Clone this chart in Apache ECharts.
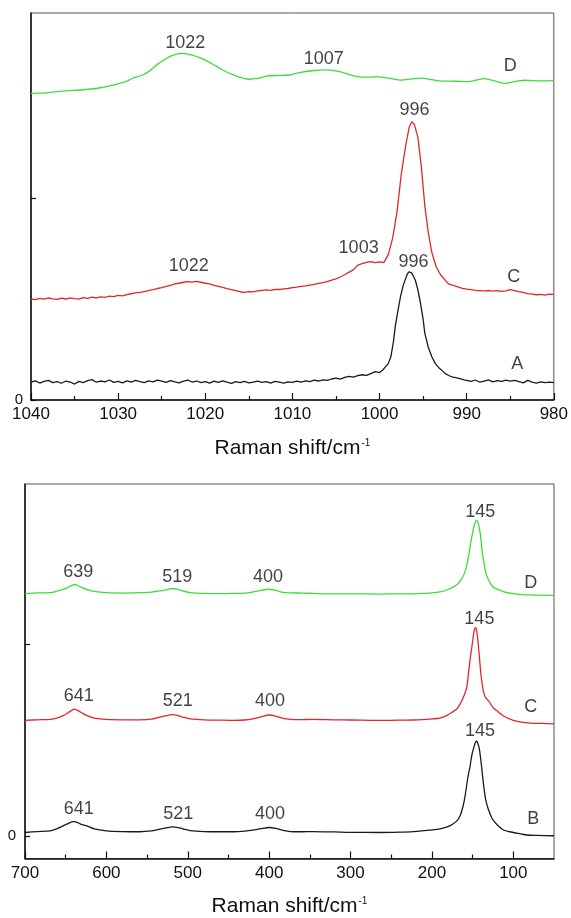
<!DOCTYPE html>
<html><head><meta charset="utf-8">
<script src="https://cdn.jsdelivr.net/npm/echarts@6/dist/echarts.min.js"></script>
<style>html,body{margin:0;padding:0;background:#fff}#c{width:571px;height:918px}</style>
</head><body><div id="c"></div>
<script>
// ---------- top panel (980-1040 cm-1) ----------
const topTicks = [1040, 1030, 1020, 1010, 1000, 990, 980];
const topD = [[1040,1.518],[1038,1.522],[1036,1.530],[1034,1.536],[1032,1.546],[1030.6,1.559],[1029.2,1.575],[1028.3,1.593],[1027.2,1.609],[1026.3,1.632],[1025.6,1.658],[1024.8,1.682],[1024.1,1.700],[1023.4,1.711],[1022.7,1.716],[1021.5,1.708],[1020.7,1.696],[1019.9,1.680],[1018.8,1.654],[1017.6,1.625],[1016.1,1.598],[1015.0,1.588],[1014.0,1.592],[1013.0,1.604],[1011.6,1.607],[1010.4,1.609],[1009.3,1.620],[1007.8,1.630],[1006.2,1.634],[1005.0,1.630],[1003.9,1.617],[1002.4,1.600],[1001.2,1.599],[1000.1,1.600],[998.8,1.592],[997.5,1.584],[996.3,1.590],[995.2,1.594],[994.0,1.586],[992.9,1.579],[991.3,1.578],[989.8,1.576],[988.9,1.584],[988.1,1.591],[987.0,1.582],[985.6,1.568],[984.5,1.576],[983.3,1.583],[981.6,1.580],[980,1.581]];
const topC = [[1040,0.500],[1039.5,0.497],[1039,0.503],[1038.5,0.499],[1038,0.505],[1037.5,0.501],[1037,0.498],[1036.5,0.504],[1036,0.500],[1035.5,0.506],[1035,0.502],[1034.5,0.499],[1034,0.507],[1033.5,0.503],[1033,0.509],[1032.5,0.505],[1032,0.511],[1031.5,0.508],[1031,0.514],[1030.5,0.512],[1030,0.518],[1029.5,0.516],[1029,0.522],[1028.5,0.526],[1028,0.530],[1027.5,0.533],[1027,0.537],[1026.5,0.541],[1026,0.546],[1025.5,0.552],[1025,0.556],[1024.5,0.562],[1024,0.568],[1023.5,0.575],[1023,0.578],[1022.5,0.583],[1022,0.586],[1021.5,0.584],[1021,0.587],[1020.5,0.583],[1020,0.578],[1019.5,0.575],[1019,0.568],[1018.5,0.563],[1018,0.557],[1017.5,0.551],[1017,0.547],[1016.5,0.542],[1016,0.536],[1015.5,0.533],[1015,0.537],[1014.5,0.535],[1014,0.540],[1013.5,0.543],[1013,0.545],[1012.5,0.543],[1012,0.548],[1011.5,0.547],[1011,0.550],[1010.5,0.552],[1010,0.556],[1009.5,0.559],[1009,0.563],[1008.5,0.565],[1008,0.569],[1007.5,0.572],[1007,0.577],[1006.5,0.581],[1006,0.586],[1005.5,0.594],[1005,0.600],[1004.5,0.609],[1004,0.620],[1003.5,0.633],[1003,0.644],[1002.5,0.668],[1002,0.675],[1001.5,0.681],[1001,0.685],[1000.5,0.680],[1000,0.684],[999.5,0.680],[999.0,0.720],[998.5,0.800],[998.0,0.930],[997.5,1.120],[997.0,1.260],[996.6,1.350],[996.3,1.378],[996.0,1.365],[995.6,1.300],[995.2,1.153],[994.8,0.960],[994.4,0.827],[994.0,0.730],[993.5,0.660],[993.0,0.620],[992.1,0.575],[991.0,0.560],[990.5,0.553],[990,0.549],[989.5,0.546],[989,0.543],[988.5,0.542],[988,0.540],[987.5,0.542],[987,0.539],[986.5,0.541],[986,0.538],[985.5,0.540],[985,0.546],[984.5,0.541],[984,0.536],[983.5,0.533],[983,0.527],[982.5,0.524],[982,0.521],[981.5,0.523],[981,0.519],[980.5,0.524],[980,0.523]];
const topA = [[1040,0.088],[1039.5,0.095],[1039,0.084],[1038.5,0.092],[1038,0.097],[1037.5,0.086],[1037,0.091],[1036.5,0.083],[1036,0.094],[1035.5,0.089],[1035,0.079],[1034.5,0.092],[1034,0.086],[1033.5,0.096],[1033,0.101],[1032.5,0.088],[1032,0.094],[1031.5,0.090],[1031,0.099],[1030.5,0.087],[1030,0.092],[1029.5,0.085],[1029,0.095],[1028.5,0.089],[1028,0.097],[1027.5,0.091],[1027,0.086],[1026.5,0.095],[1026,0.090],[1025.5,0.098],[1025,0.093],[1024.5,0.087],[1024,0.096],[1023.5,0.090],[1023,0.085],[1022.5,0.093],[1022,0.098],[1021.5,0.089],[1021,0.094],[1020.5,0.086],[1020,0.091],[1019.5,0.084],[1019,0.093],[1018.5,0.087],[1018,0.095],[1017.5,0.088],[1017,0.082],[1016.5,0.091],[1016,0.086],[1015.5,0.092],[1015,0.085],[1014.5,0.089],[1014,0.094],[1013.5,0.087],[1013,0.091],[1012.5,0.084],[1012,0.092],[1011.5,0.088],[1011,0.083],[1010.5,0.090],[1010,0.087],[1009.5,0.093],[1009,0.089],[1008.5,0.095],[1008,0.091],[1007.5,0.098],[1007,0.094],[1006.5,0.100],[1006,0.097],[1005.5,0.104],[1005,0.108],[1004.5,0.103],[1004,0.112],[1003.5,0.117],[1003,0.113],[1002.5,0.121],[1002,0.125],[1001.5,0.122],[1001,0.131],[1000.5,0.140],[1000,0.136],[999.6,0.150],[999.3,0.165],[999.0,0.180],[998.7,0.214],[998.4,0.290],[998.2,0.363],[997.9,0.440],[997.6,0.511],[997.3,0.565],[997.0,0.602],[996.8,0.625],[996.6,0.635],[996.3,0.628],[995.9,0.594],[995.6,0.545],[995.3,0.479],[995.0,0.400],[994.8,0.330],[994.4,0.260],[994.0,0.214],[993.6,0.180],[993.2,0.160],[992.9,0.149],[992.5,0.132],[992.0,0.120],[991.7,0.115],[991.0,0.108],[990.3,0.100],[990,0.097],[989.5,0.092],[989,0.099],[988.5,0.088],[988,0.094],[987.5,0.100],[987,0.090],[986.5,0.096],[986,0.092],[985.5,0.098],[985,0.093],[984.5,0.097],[984,0.091],[983.5,0.085],[983,0.097],[982.5,0.089],[982,0.084],[981.5,0.090],[981,0.086],[980.5,0.088],[980,0.086]];
const topNotes = [[1022.3,1.769,'1022'],[1006.4,1.688,'1007'],[985.0,1.655,'D'],[996.0,1.436,'996'],[1021.9,0.663,'1022'],[1002.4,0.754,'1003'],[996.1,0.685,'996'],[984.6,0.607,'C'],[984.2,0.178,'A']];

// ---------- bottom panel (50-700 cm-1) ----------
const botTicks = [700, 600, 500, 400, 300, 200, 100];
const botMinor = [650, 550, 450, 350, 250, 150];
const botD = [[700,1.263],[690,1.266],[680,1.267],[669,1.268],[660,1.277],[653,1.285],[646,1.298],[641,1.309],[638.6,1.311],[634,1.303],[630,1.294],[624,1.285],[615,1.275],[600,1.268],[580,1.266],[559,1.268],[545,1.271],[534,1.277],[525,1.284],[519,1.290],[513,1.286],[505,1.276],[497,1.268],[480,1.264],[460,1.263],[444,1.264],[430,1.266],[420,1.272],[410,1.280],[401,1.286],[392,1.280],[383,1.270],[375,1.267],[360,1.266],[346,1.264],[320,1.262],[300,1.262],[264,1.261],[240,1.262],[223,1.262],[210,1.264],[199,1.268],[190,1.272],[182,1.282],[174,1.297],[168,1.315],[163.4,1.340],[160,1.370],[157.3,1.409],[154.5,1.470],[152.3,1.529],[150,1.580],[148.3,1.615],[146.5,1.638],[145,1.646],[143.5,1.635],[141.8,1.607],[140,1.555],[138.1,1.478],[135.5,1.410],[132.7,1.357],[128.5,1.320],[124.6,1.297],[116,1.280],[108,1.268],[100,1.263],[90,1.258],[75,1.255],[50,1.254]];
const botC = [[700,0.602],[685,0.605],[669,0.607],[660,0.615],[653,0.627],[646,0.645],[641,0.658],[639.8,0.661],[636,0.655],[631,0.643],[624,0.627],[615,0.614],[600,0.607],[580,0.605],[559,0.605],[545,0.608],[534,0.619],[525,0.627],[519,0.632],[512,0.627],[505,0.617],[497,0.610],[480,0.605],[460,0.603],[444,0.602],[430,0.604],[420,0.610],[410,0.620],[400,0.630],[392,0.624],[383,0.612],[374,0.607],[360,0.606],[346,0.607],[320,0.605],[300,0.604],[264,0.602],[240,0.603],[223,0.604],[199,0.610],[190,0.614],[182,0.627],[175,0.645],[169.5,0.661],[165,0.690],[161.4,0.722],[157.3,0.773],[155,0.850],[152.5,0.940],[151.1,0.979],[149,1.045],[147.5,1.080],[146.2,1.086],[145,1.070],[143,0.996],[141,0.900],[139.5,0.830],[137.5,0.773],[136,0.740],[133.5,0.718],[130.7,0.705],[125,0.670],[120.4,0.653],[112,0.625],[100,0.602],[90,0.593],[79.5,0.588],[65,0.586],[50,0.584]];
const botB = [[700,0.017],[685,0.022],[669,0.026],[660,0.038],[653,0.052],[646,0.066],[641,0.074],[639.8,0.074],[636,0.070],[631,0.060],[624,0.052],[615,0.036],[600,0.026],[580,0.022],[559,0.021],[545,0.025],[534,0.035],[525,0.042],[519,0.046],[512,0.043],[505,0.035],[497,0.027],[480,0.022],[460,0.021],[444,0.021],[430,0.024],[420,0.029],[410,0.037],[400,0.043],[392,0.038],[383,0.028],[374,0.022],[360,0.021],[346,0.022],[320,0.020],[300,0.018],[264,0.017],[240,0.019],[223,0.022],[199,0.031],[190,0.036],[178,0.052],[170,0.075],[165.5,0.103],[162,0.150],[159.3,0.206],[156,0.300],[153.2,0.361],[151,0.420],[148.3,0.464],[146.5,0.488],[145,0.493],[143.5,0.480],[141.8,0.455],[139.5,0.380],[136.8,0.275],[134,0.190],[130.7,0.138],[126,0.090],[120.4,0.060],[112,0.030],[100,0.017],[91,0.010],[83.5,0.004],[70,0.002],[50,0]];
const botNotes = [[634.5,1.378,'639'],[512.9,1.349,'519'],[401.4,1.349,'400'],[140.5,1.689,'145'],[78.6,1.318,'D'],[634.0,0.727,'641'],[512.4,0.701,'521'],[398.9,0.701,'400'],[141.7,1.129,'145'],[78.6,0.670,'C'],[634.0,0.138,'641'],[511.6,0.112,'521'],[398.9,0.113,'400'],[140.9,0.545,'145'],[75.4,0.086,'B']];

const FONT = 'Liberation Sans, Arial, Helvetica, sans-serif';
const INK = '#111111';
const GREEN = '#3ddc3d', RED = '#e3262c', BLACK = '#1a1a1a';

function xAxisBase(grid, min, max) {
  return {
    type: 'value', gridIndex: grid, min: min, max: max, inverse: true,
    axisLine: { show: true, onZero: false, lineStyle: { color: INK, width: 1.5 } },
    splitLine: { show: false },
    axisLabel: { color: INK, fontSize: 17, fontFamily: FONT, margin: 6, formatter: v => String(v) },
    axisTick: { show: true, inside: true, length: 7, lineStyle: { color: INK, width: 1.2 } },
    nameLocation: 'middle', nameGap: 36,
    name: '{a|Raman shift/cm}{b|-1}',
    nameTextStyle: { rich: {
      a: { fontSize: 21, fontFamily: FONT, color: INK, lineHeight: 24 },
      b: { fontSize: 10, fontFamily: FONT, color: INK, verticalAlign: 'top', lineHeight: 10, padding: [2, 0, 0, 1] }
    } }
  };
}
function yAxisBase(grid, min, max, margin) {
  return {
    type: 'value', gridIndex: grid, min: min, max: max,
    axisLine: { show: true, onZero: false, lineStyle: { color: INK, width: 1.5 } },
    splitLine: { show: false },
    axisTick: { show: true, inside: true, length: 5, customValues: [0, 1], lineStyle: { color: INK, width: 1.2 } },
    axisLabel: { show: true, customValues: [0], color: INK, fontSize: 15, fontFamily: FONT, margin: margin }
  };
}

const topX = xAxisBase(0, 980, 1040);
topX.interval = 10;
topX.minorTick = { show: true, splitNumber: 2, length: 4, lineStyle: { color: INK, width: 1.2 } };
topX.axisLabel.customValues = topTicks;
topX.axisTick.customValues = topTicks;

const botX = xAxisBase(1, 50, 700);
botX.axisLabel.customValues = botTicks;
botX.axisTick.customValues = botTicks;

const botXMinor = {
  type: 'value', gridIndex: 1, min: 50, max: 700, inverse: true, position: 'bottom',
  axisLine: { show: false, onZero: false }, splitLine: { show: false }, axisLabel: { show: false },
  axisTick: { show: true, inside: true, length: 4, customValues: botMinor, lineStyle: { color: INK, width: 1.2 } }
};

function line(xi, yi, data, color, smooth) {
  return { type: 'line', xAxisIndex: xi, yAxisIndex: yi, data: data, showSymbol: false, symbol: 'none',
    smooth: smooth, lineStyle: { color: color, width: 1.3 }, silent: true, animation: false };
}
function notes(xi, yi, data) {
  return { type: 'scatter', xAxisIndex: xi, yAxisIndex: yi, data: data, symbolSize: 1,
    itemStyle: { color: 'rgba(0,0,0,0)' }, silent: true, animation: false,
    label: { show: true, position: 'inside', formatter: p => p.value[2], color: INK, fontSize: 18, fontFamily: FONT, textBorderWidth: 0 } };
}

const chart = echarts.init(document.getElementById('c'), null, { renderer: 'canvas' });
chart.setOption({
  backgroundColor: '#fff',
  animation: false,
  grid: [
    { left: 31, top: 13, width: 525, height: 387, show: true, borderColor: '#555', borderWidth: 1 },
    { left: 25, top: 484, width: 529, height: 379, show: true, borderColor: '#555', borderWidth: 1 }
  ],
  xAxis: [topX, botX, botXMinor],
  yAxis: [yAxisBase(0, 0, 1.916, 8), yAxisBase(1, -0.1186, 1.835, 9)],
  series: [
    line(0, 0, topA, BLACK, false),
    line(0, 0, topC, RED, false),
    line(0, 0, topD, GREEN, 0.3),
    notes(0, 0, topNotes),
    line(1, 1, botB, BLACK, 0.3),
    line(1, 1, botC, RED, 0.3),
    line(1, 1, botD, GREEN, 0.3),
    notes(1, 1, botNotes)
  ]
});
</script>
</body></html>
